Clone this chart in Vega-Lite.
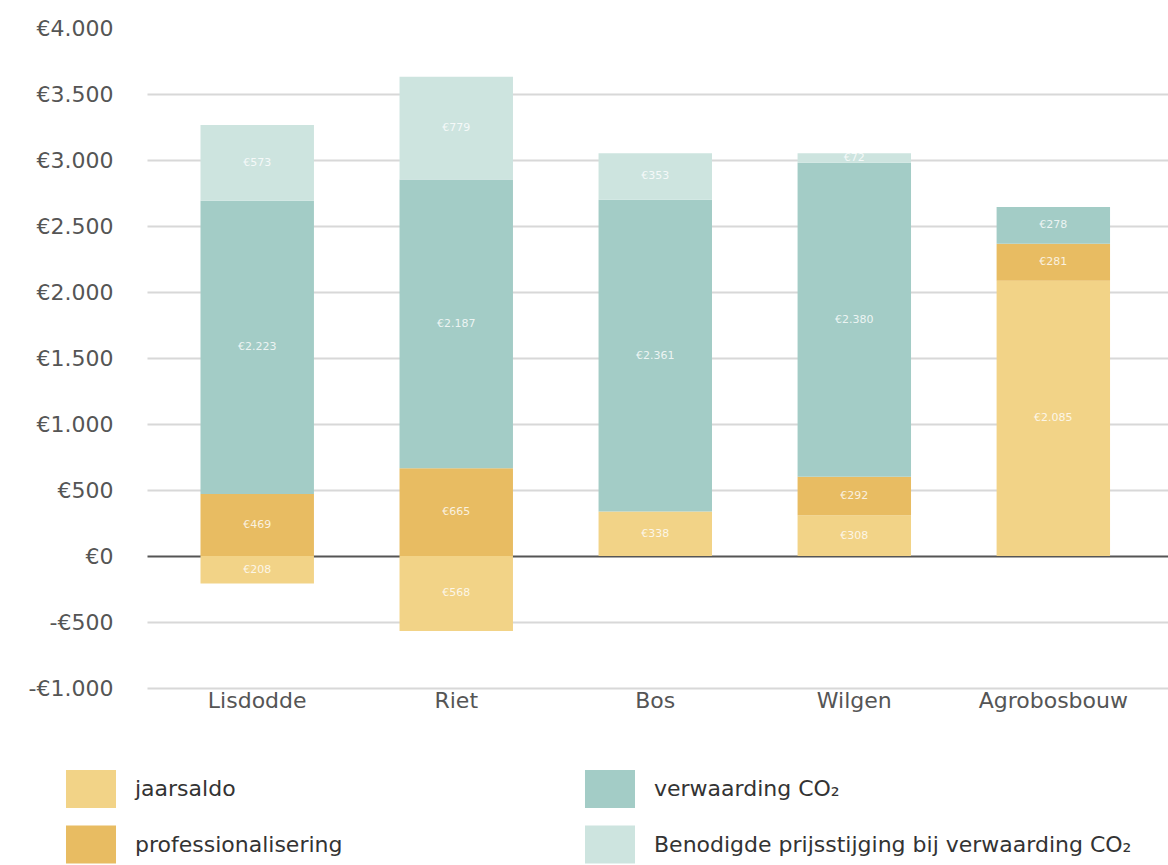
{
  "$schema": "https://vega.github.io/schema/vega-lite/v6.json",
  "autosize": {"type": "none"},
  "width": 1021,
  "height": 660,
  "padding": {"left": 147, "top": 28, "right": 0, "bottom": 177},
  "background": "white",
  "data": {
    "values": [
      {"cat": "Lisdodde", "series": "jaarsaldo", "order": 1, "value": -208},
      {"cat": "Lisdodde", "series": "professionalisering", "order": 2, "value": 469},
      {"cat": "Lisdodde", "series": "verwaarding CO₂", "order": 3, "value": 2223},
      {"cat": "Lisdodde", "series": "Benodigde prijsstijging bij verwaarding CO₂", "order": 4, "value": 573},
      {"cat": "Riet", "series": "jaarsaldo", "order": 1, "value": -568},
      {"cat": "Riet", "series": "professionalisering", "order": 2, "value": 665},
      {"cat": "Riet", "series": "verwaarding CO₂", "order": 3, "value": 2187},
      {"cat": "Riet", "series": "Benodigde prijsstijging bij verwaarding CO₂", "order": 4, "value": 779},
      {"cat": "Bos", "series": "jaarsaldo", "order": 1, "value": 338},
      {"cat": "Bos", "series": "verwaarding CO₂", "order": 3, "value": 2361},
      {"cat": "Bos", "series": "Benodigde prijsstijging bij verwaarding CO₂", "order": 4, "value": 353},
      {"cat": "Wilgen", "series": "jaarsaldo", "order": 1, "value": 308},
      {"cat": "Wilgen", "series": "professionalisering", "order": 2, "value": 292},
      {"cat": "Wilgen", "series": "verwaarding CO₂", "order": 3, "value": 2380},
      {"cat": "Wilgen", "series": "Benodigde prijsstijging bij verwaarding CO₂", "order": 4, "value": 72},
      {"cat": "Agrobosbouw", "series": "jaarsaldo", "order": 1, "value": 2085},
      {"cat": "Agrobosbouw", "series": "professionalisering", "order": 2, "value": 281},
      {"cat": "Agrobosbouw", "series": "verwaarding CO₂", "order": 3, "value": 278}
    ]
  },
  "transform": [
    {"stack": "value", "groupby": ["cat"], "sort": [{"field": "order", "order": "ascending"}], "as": ["v0", "v1"]},
    {"calculate": "(datum.v0 + datum.v1) / 2", "as": "mid"},
    {"calculate": "'€' + replace(format(abs(datum.value), ','), ',', '.')", "as": "label"}
  ],
  "encoding": {
    "x": {
      "field": "cat",
      "type": "nominal",
      "sort": ["Lisdodde", "Riet", "Bos", "Wilgen", "Agrobosbouw"],
      "scale": {"paddingInner": 0.43, "paddingOuter": 0.28, "align": 0.48},
      "axis": {
        "title": null,
        "labelAngle": 0,
        "domain": false,
        "ticks": false,
        "labelPadding": 2,
        "labelFontSize": 22,
        "labelColor": "#555555",
        "labelFont": "DejaVu Sans",
        "labelBaseline": "top"
      }
    }
  },
  "layer": [
    {
      "mark": {"type": "bar"},
      "encoding": {
        "y": {
          "field": "v0",
          "type": "quantitative",
          "scale": {"domain": [-1000, 4000], "nice": false},
          "axis": {
            "title": null,
            "values": [-1000, -500, 0, 500, 1000, 1500, 2000, 2500, 3000, 3500, 4000],
            "domain": false,
            "ticks": false,
            "labelPadding": 34,
            "labelFontSize": 22,
            "labelColor": "#555555",
            "labelFont": "DejaVu Sans",
            "labelExpr": "(datum.value < 0 ? '-' : '') + '€' + replace(format(abs(datum.value), ','), ',', '.')",
            "gridColor": {"condition": {"test": "datum.value === 0", "value": "#555555"}, "value": "#d8d8d8"},
            "gridOpacity": {"condition": {"test": "datum.value === 4000", "value": 0}, "value": 1},
            "gridWidth": 2
          }
        },
        "y2": {"field": "v1"},
        "color": {
          "field": "series",
          "type": "nominal",
          "scale": {
            "domain": ["jaarsaldo", "professionalisering", "verwaarding CO₂", "Benodigde prijsstijging bij verwaarding CO₂"],
            "range": ["#F2D387", "#E8BC62", "#A3CCC6", "#CDE4DF"]
          },
          "legend": {
            "title": null,
            "orient": "none",
            "legendX": -75,
            "legendY": 742,
            "columns": 2,
            "padding": 0,
            "symbolType": "M-1.316,-1H1.316V1H-1.316Z",
            "symbolSize": 1444,
            "symbolStrokeWidth": 0,
            "symbolOpacity": 1,
            "rowPadding": 17.5,
            "columnPadding": 241,
            "labelOffset": 25,
            "labelFontSize": 22,
            "labelFont": "DejaVu Sans",
            "labelColor": "#333333",
            "labelLimit": 700
          }
        }
      }
    },
    {
      "mark": {"type": "text", "color": "white", "fontSize": 11, "font": "DejaVu Sans", "opacity": 0.8},
      "encoding": {
        "y": {"field": "mid", "type": "quantitative"},
        "text": {"field": "label", "type": "nominal"}
      }
    }
  ],
  "config": {"view": {"stroke": null}}
}
